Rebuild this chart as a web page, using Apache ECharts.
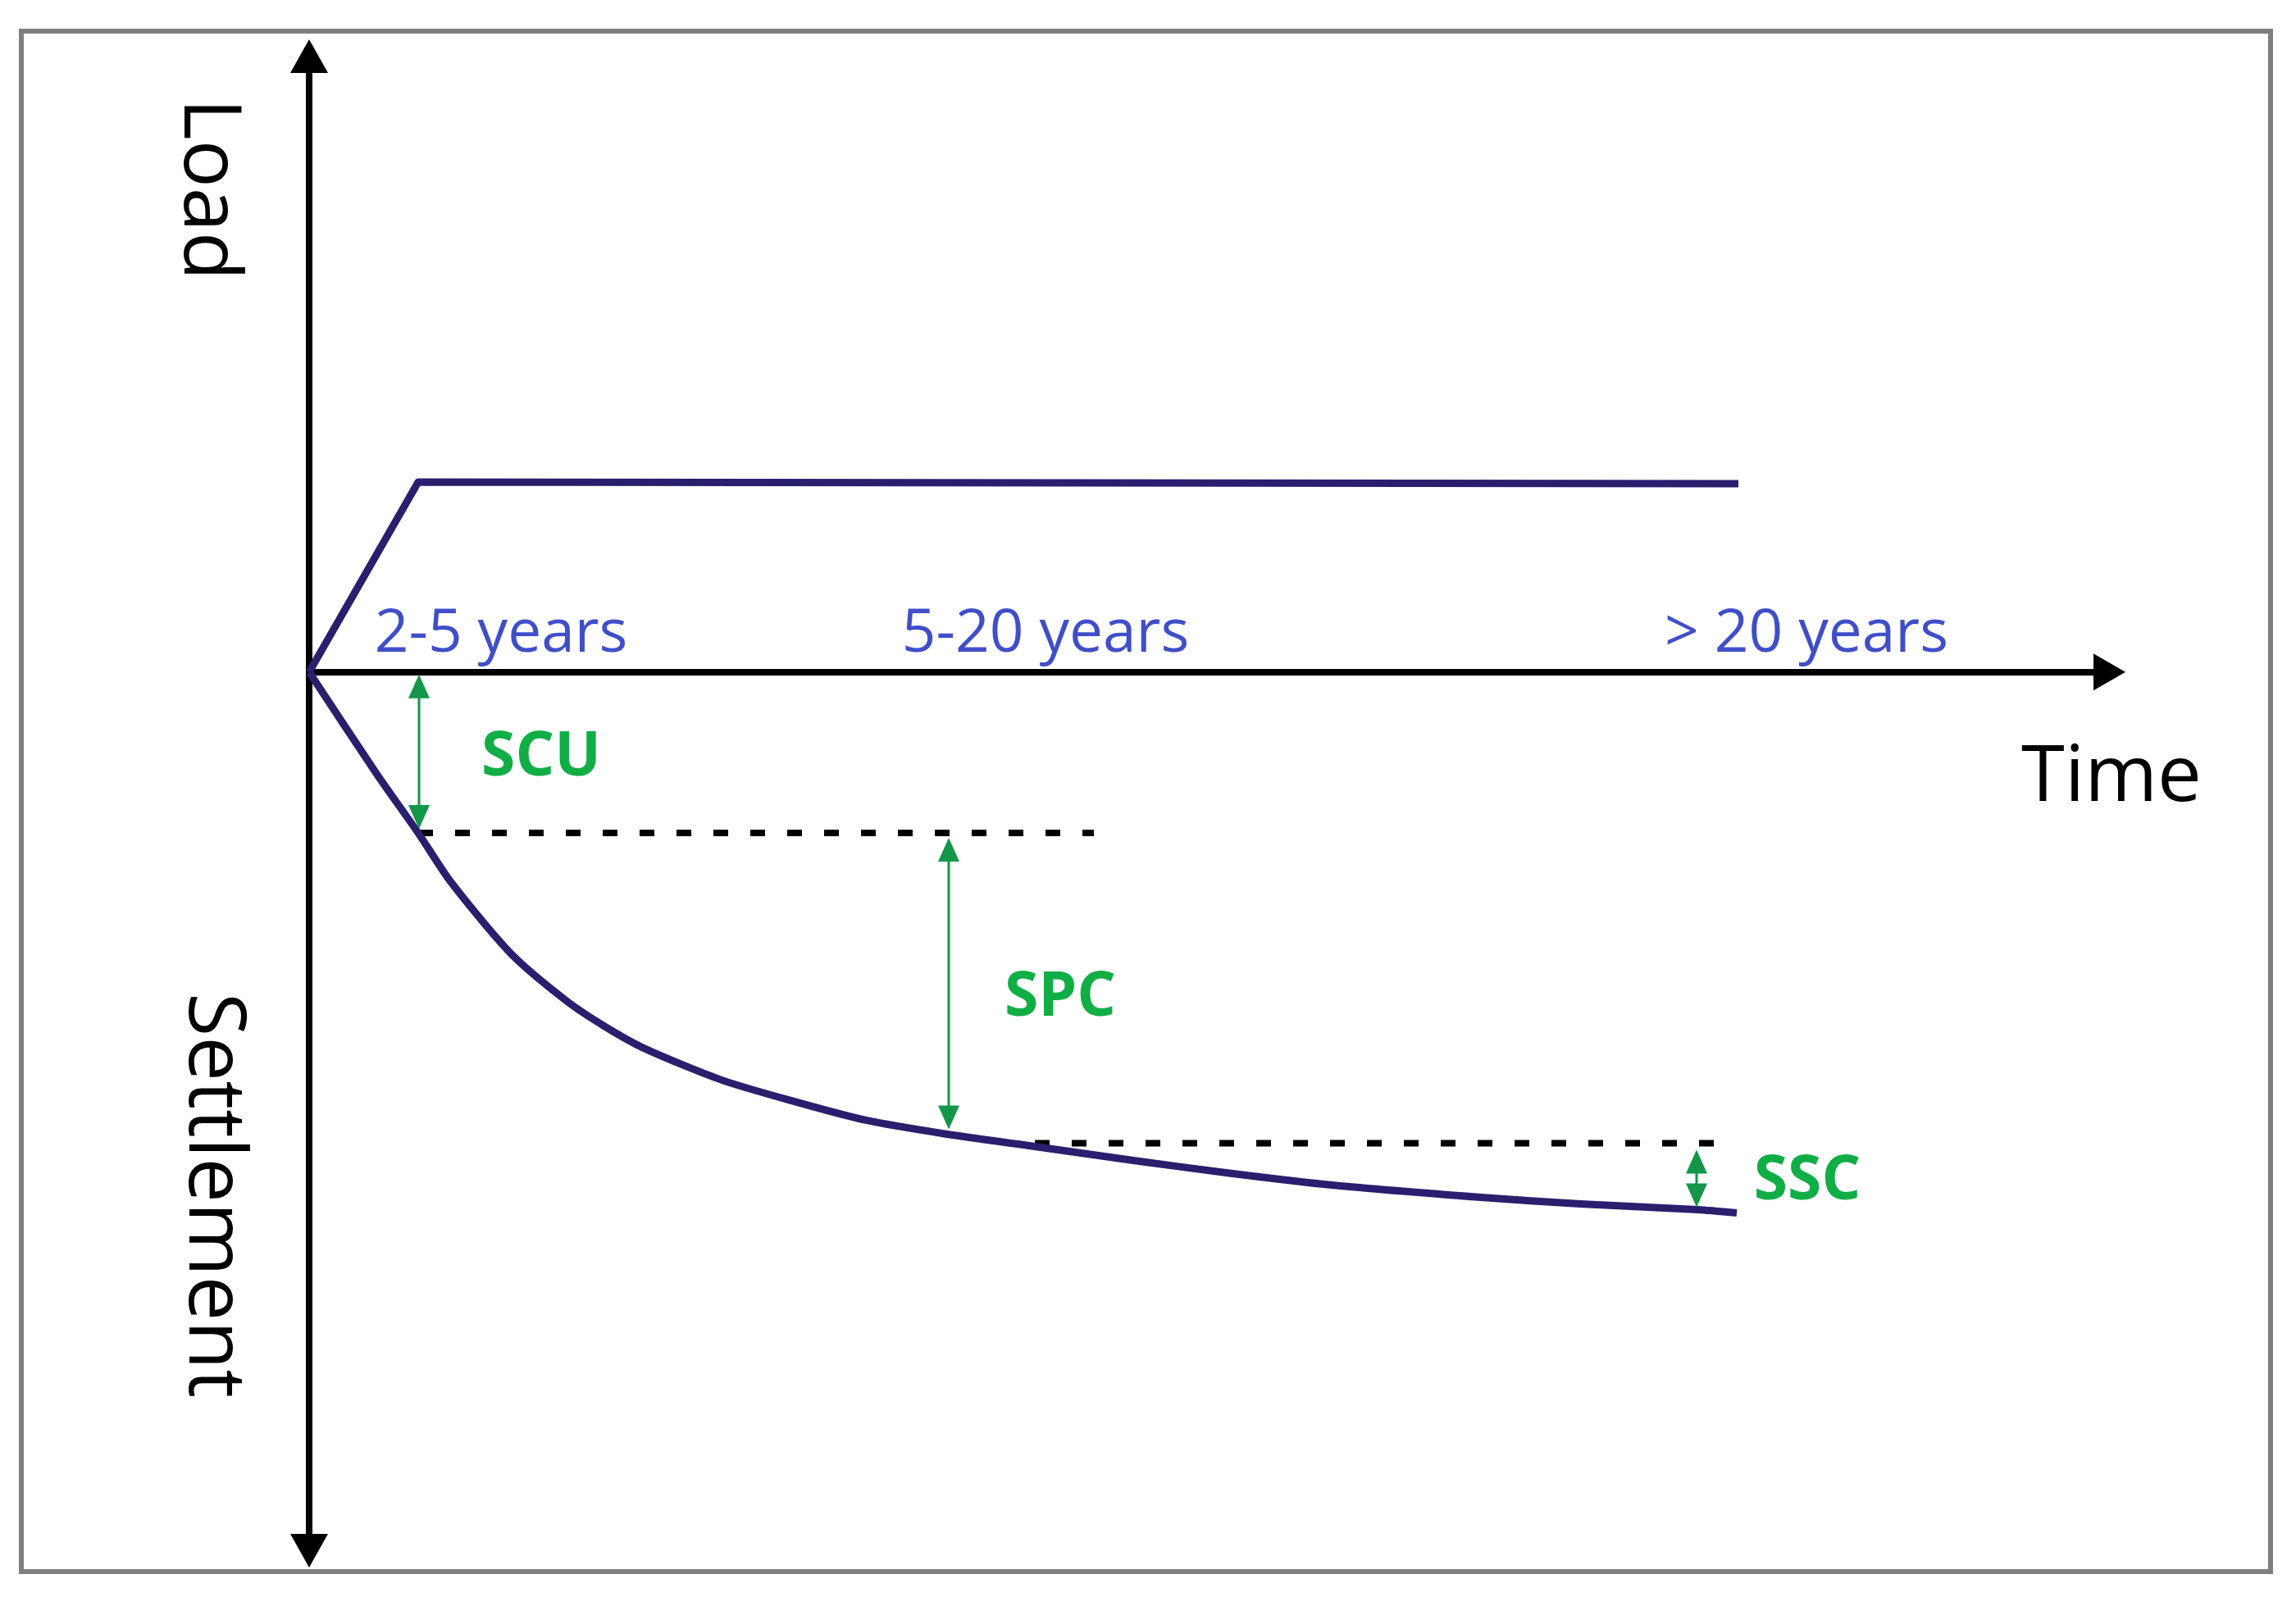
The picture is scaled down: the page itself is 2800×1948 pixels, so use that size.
<!DOCTYPE html>
<html><head><meta charset="utf-8">
<script src="https://cdn.jsdelivr.net/npm/echarts@6/dist/echarts.min.js"></script>
<style>html,body{margin:0;padding:0;background:#fff}#c{width:2800px;height:1948px}</style>
</head><body><div id="c"></div>
<script>
// ---- data (time units along x, load / settlement units along y) ----
const periodTicks = [11.7, 44.9, 91.3];
const periodLabels = ['2-5 years', '5-20 years', '> 20 years'];

const loadTime  = [0, 6.65, 87.15];
const loadValue = [0, 23.15, 22.95];

const settleTime  = [0, 4.15, 6.65, 8.65, 12.3, 15.65, 18.05, 20.5, 25.15, 29.55, 33.95, 38.9, 43.9, 50.25, 56.3, 62.35, 71.45, 77.5, 84.65, 87.05];
const settleValue = [0, -12.5, -19.6, -25.6, -34.3, -40.0, -43.2, -45.9, -49.7, -52.3, -54.6, -56.3, -57.7, -59.5, -61.1, -62.5, -64.0, -64.8, -65.5, -65.9];

const primaryLevelTime = [6.65, 47.85];
const primaryLevel = -19.6;
const secondaryLevelTime = [44.25, 86.5];
const secondaryLevel = -57.4;

const compNames  = ['SCU', 'SPC', 'SSC'];
const compTime   = [6.7, 39.0, 84.6];
const compTop    = [-0.3, -20.2, -58.2];
const compBottom = [-19.1, -55.7, -65.2];

// ---- chart ----
const pairs = (xs, ys) => xs.map((x, i) => [x, ys[i]]);
const chart = echarts.init(document.getElementById('c'), null, {renderer: 'canvas'});
const curveColor = '#2a1e6e';
const arrowGreen = '#13964a';
const labelGreen = '#10ae45';

const option = {
  animation: false,
  backgroundColor: '#ffffff',
  grid: {left: 377, right: 247, top: 89, bottom: 77, containLabel: false, outerBoundsMode: 'none'},
  xAxis: {
    type: 'value', min: 0, max: 108.8,
    axisLine: {onZero: true, lineStyle: {color: '#000', width: 8},
      symbol: ['none', 'triangle'], symbolSize: [45, 39], symbolOffset: [0, 19.5]},
    axisTick: {show: false}, splitLine: {show: false}, axisLabel: {show: false}
  },
  yAxis: {
    type: 'value', min: -105, max: 73,
    axisLine: {show: true, onZero: true, lineStyle: {color: '#000', width: 8},
      symbol: ['triangle', 'triangle'], symbolSize: [46, 41], symbolOffset: [-20.5, 20.5]},
    axisTick: {show: false}, splitLine: {show: false}, axisLabel: {show: false}
  },
  series: [
    {type: 'line', name: 'Load', data: pairs(loadTime, loadValue), symbol: 'none',
      lineStyle: {color: curveColor, width: 9, join: 'round'}, z: 5},
    {type: 'line', name: 'Settlement', data: pairs(settleTime, settleValue), symbol: 'none', smooth: 0.25,
      lineStyle: {color: curveColor, width: 9, join: 'round'}, z: 5},
    {type: 'line', data: primaryLevelTime.map(t => [t, primaryLevel]), symbol: 'none',
      lineStyle: {color: '#000', width: 8, type: [18, 27]}, z: 4},
    {type: 'line', data: secondaryLevelTime.map(t => [t, secondaryLevel]), symbol: 'none',
      lineStyle: {color: '#000', width: 8, type: [18, 27]}, z: 4},
    // period labels sitting on the time axis
    {type: 'custom', coordinateSystem: 'cartesian2d', clip: false, z: 6,
      data: periodTicks.map((t, i) => [t, 0, i]),
      encode: {x: 0, y: 1},
      renderItem: function (params, api) {
        const p = api.coord([api.value(0), api.value(1)]);
        return {type: 'text', x: p[0], y: p[1] - 46,
          style: {text: periodLabels[api.value(2)], fontSize: 73, fontFamily: 'Open Sans',
            fill: '#3f4fc9', align: 'center', verticalAlign: 'middle'}};
      }
    },
    // component arrows
    {type: 'custom', coordinateSystem: 'cartesian2d', clip: false, z: 6,
      data: compTime.map((t, i) => [t, compTop[i], compBottom[i]]),
      encode: {x: 0, y: [1, 2]},
      renderItem: function (params, api) {
        const a = api.coord([api.value(0), api.value(1)]);
        const b = api.coord([api.value(0), api.value(2)]);
        const x = a[0], y1 = a[1], y2 = b[1];
        const hl = 29, hw = 13;
        return {type: 'group', children: [
          {type: 'line', shape: {x1: x, y1: y1 + 5, x2: x, y2: y2 - 5}, style: {stroke: arrowGreen, lineWidth: 3}},
          {type: 'polygon', shape: {points: [[x, y1], [x - hw, y1 + hl], [x + hw, y1 + hl]]}, style: {fill: arrowGreen}},
          {type: 'polygon', shape: {points: [[x, y2], [x - hw, y2 - hl], [x + hw, y2 - hl]]}, style: {fill: arrowGreen}}
        ]};
      }
    }
  ],
  graphic: [
    {type: 'rect', shape: {x: 26, y: 38, width: 2743, height: 1879}, style: {fill: null, stroke: '#7f7f7f', lineWidth: 6}, z: 100},
    {type: 'text', x: 253, y: 231, rotation: -Math.PI / 2,
      style: {text: 'Load', fontSize: 97, fontFamily: 'Open Sans', fill: '#000', align: 'center', verticalAlign: 'middle'}},
    {type: 'text', x: 259, y: 1458, rotation: -Math.PI / 2,
      style: {text: 'Settlement', fontSize: 97, fontFamily: 'Open Sans', fill: '#000', align: 'center', verticalAlign: 'middle'}},
    {type: 'text', x: 2575, y: 950,
      style: {text: 'Time', fontSize: 96, fontFamily: 'Open Sans', fill: '#000', align: 'center', verticalAlign: 'middle'}},
    {type: 'text', x: 660, y: 925,
      style: {text: compNames[0], fontSize: 75, fontWeight: 'bold', fontFamily: 'Open Sans', fill: labelGreen, align: 'center', verticalAlign: 'middle'}},
    {type: 'text', x: 1293, y: 1218,
      style: {text: compNames[1], fontSize: 75, fontWeight: 'bold', fontFamily: 'Open Sans', fill: labelGreen, align: 'center', verticalAlign: 'middle'}},
    {type: 'text', x: 2204, y: 1442,
      style: {text: compNames[2], fontSize: 75, fontWeight: 'bold', fontFamily: 'Open Sans', fill: labelGreen, align: 'center', verticalAlign: 'middle'}}
  ]
};
chart.setOption(option);
</script></body></html>
